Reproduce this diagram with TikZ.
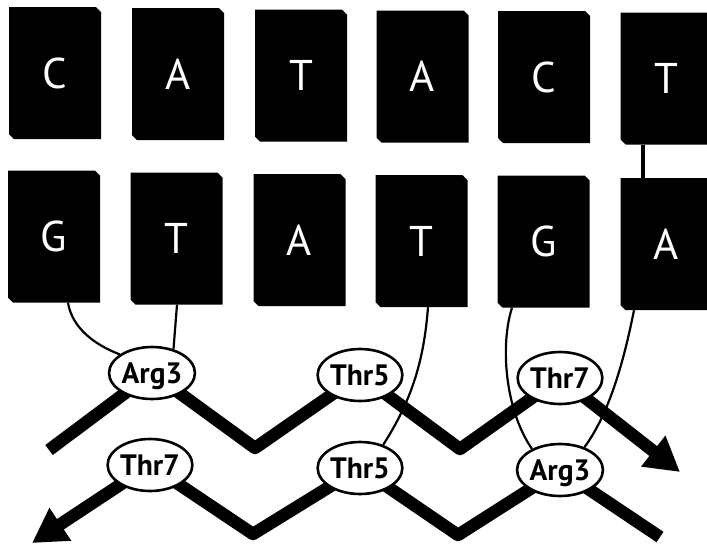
\documentclass[tikz,border=0pt]{standalone}
\usepackage{fontspec}
\setmainfont{PT Sans}
\usetikzlibrary{shapes.misc,shapes.geometric,arrows.meta}
\pgfdeclarelayer{bg}
\pgfsetlayers{bg,main}
\tikzset{dnatip/.tip={Triangle[length=34pt,width=37pt]}}
\begin{document}
\begin{tikzpicture}[x=1pt,y=-1pt,
  base/.style={chamfered rectangle, chamfered rectangle corners={north east,south west},
    chamfered rectangle xsep=2.5pt, chamfered rectangle ysep=2.5pt, fill=black,
    minimum width=92pt, minimum height=132pt, inner sep=0pt, text=white,
    font=\fontsize{43}{43}\selectfont},
  res/.style={ellipse, draw=black, fill=white, line width=2.6pt,
    minimum width=80pt, minimum height=52pt, inner sep=0pt,
    text height=20.5pt, text depth=0pt,
    font=\bfseries\fontsize{29.5}{29.5}\selectfont},
  link/.style={line width=2.2pt},
  chain/.style={line width=12.5pt, line join=round}]
\useasboundingbox (0,0) rectangle (707,547);
% top strand
\node[base] (t1) at (55,73) {C};
\node[base] (t2) at (178,74) {A};
\node[base] (t3) at (301,75.5) {T};
\node[base] (t4) at (422.5,76.5) {A};
\node[base] (t5) at (544,77) {C};
\node[base] (t6) at (666.5,78.5) {T};
% bottom strand
\node[base] (b1) at (54,236.5) {G};
\node[base] (b2) at (176.5,238.5) {T};
\node[base] (b3) at (299.5,240) {A};
\node[base] (b4) at (421.5,241) {T};
\node[base] (b5) at (543.5,241.5) {G};
\node[base] (b6) at (666.5,244) {A};
% residues
\node[res] (a3t) at (152,373) {Arg3};
\node[res] (t5t) at (360,375) {Thr5};
\node[res] (t7t) at (560,378) {Thr7};
\node[res] (t7b) at (150,465) {Thr7};
\node[res] (t5b) at (360,468) {Thr5};
\node[res] (a3b) at (560,470) {Arg3};
% chain points
\coordinate (s1) at (49,450);
\coordinate (v1) at (255,448);
\coordinate (v2) at (460,449);
\coordinate (tipR) at (680,472);
\coordinate (tipL) at (32,543);
\coordinate (v3) at (253,534);
\coordinate (v4) at (458,535);
\coordinate (e2) at (660,537);
\begin{pgfonlayer}{bg}
\draw[link] ([xshift=14pt]b1.south) .. controls (72,328) and (95,345) .. (a3t.150);
\draw[link] ([xshift=0.5pt]b2.south) -- (a3t.48);
\draw[link] ([xshift=6.5pt]b4.south) .. controls (424,360) and (412,400) .. (t5b.45);
\draw[link] ([xshift=-31.5pt]b5.south) .. controls (500,345) and (505,410) .. (a3b.143);
\draw[link] ([xshift=-32.5pt]b6.south) .. controls (626,350) and (612,410) .. (a3b.43);
\draw[line width=4pt] ([xshift=-23.5pt]t6.south) -- ([xshift=-23.5pt]b6.north);
\draw[chain, -dnatip] (s1) -- (a3t.center) -- (v1) -- (t5t.center) -- (v2) -- (t7t.center) -- (tipR);
\draw[chain, dnatip-] (tipL) -- (t7b.center) -- (v3) -- (t5b.center) -- (v4) -- (a3b.center) -- (e2);
\end{pgfonlayer}
\end{tikzpicture}
\end{document}
